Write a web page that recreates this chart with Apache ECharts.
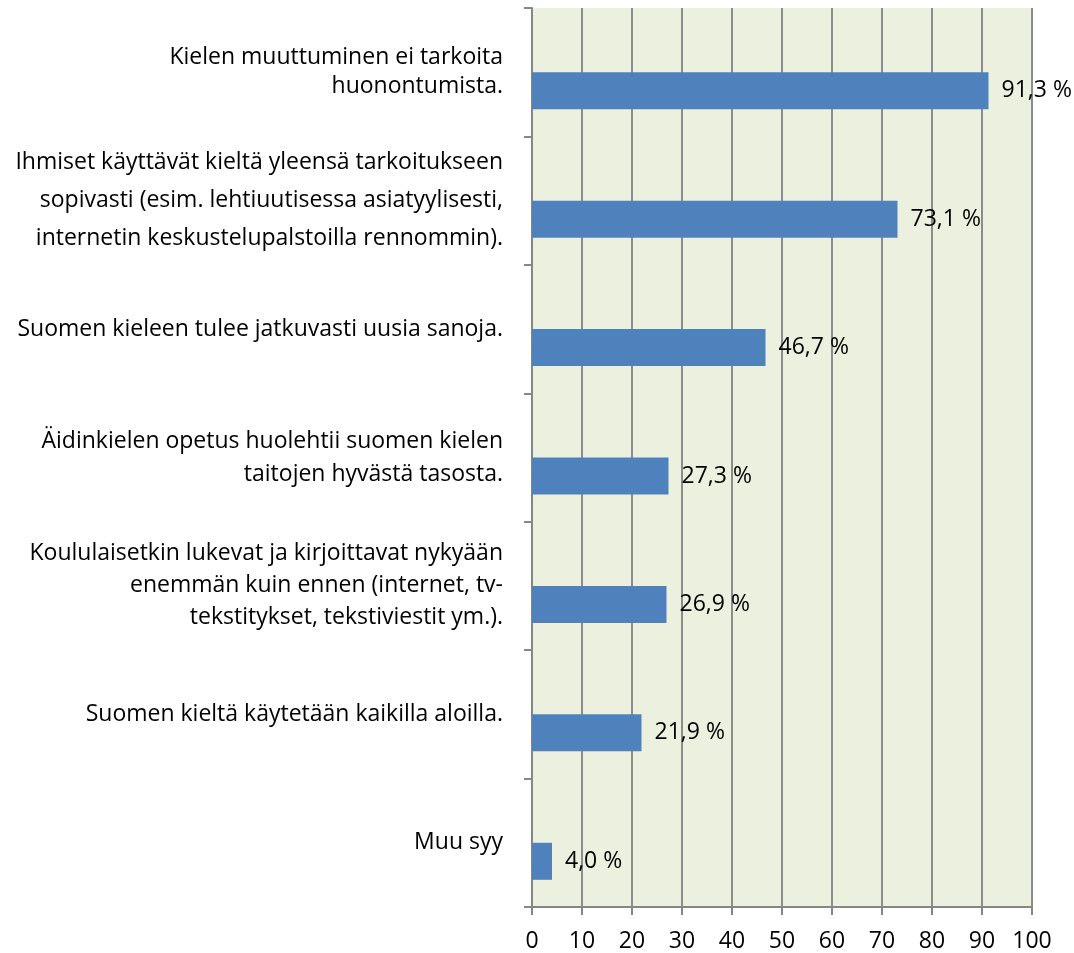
<!DOCTYPE html>
<html>
<head>
<meta charset="utf-8">
<script src="https://cdn.jsdelivr.net/npm/echarts@6/dist/echarts.min.js"></script>
<style>
  html, body { margin: 0; padding: 0; background: #fff; }
  #chart { width: 1074px; height: 953px; }
</style>
</head>
<body>
<div id="chart"></div>
<script>
// kategoriat ylhäältä alas
var categories = [
  'Kielen muuttuminen ei tarkoita\nhuonontumista.',
  'Ihmiset käyttävät kieltä yleensä tarkoitukseen\nsopivasti (esim. lehtiuutisessa asiatyylisesti,\ninternetin keskustelupalstoilla rennommin).',
  'Suomen kieleen tulee jatkuvasti uusia sanoja.',
  'Äidinkielen opetus huolehtii suomen kielen\ntaitojen hyvästä tasosta.',
  'Koululaisetkin lukevat ja kirjoittavat nykyään\nenemmän kuin ennen (internet, tv-\ntekstitykset, tekstiviestit ym.).',
  'Suomen kieltä käytetään kaikilla aloilla.',
  'Muu syy'
];
var values = [91.3, 73.1, 46.7, 27.3, 26.9, 21.9, 4.0];
var xTicks = [0, 10, 20, 30, 40, 50, 60, 70, 80, 90, 100];

// rivivälit kuten Excelissä
var lineHeights = [29, 38, 32, 33, 32, 32, 32];

var font = 'Open Sans';
var chart = echarts.init(document.getElementById('chart'));
chart.setOption({
  animation: false,
  grid: { left: 532, right: 42, top: 8, bottom: 44, backgroundColor: '#EBF1DE', show: true, borderWidth: 0 },
  xAxis: {
    type: 'value',
    min: xTicks[0],
    max: xTicks[xTicks.length - 1],
    interval: 10,
    axisLine: { show: true, lineStyle: { color: '#868686', width: 2 } },
    axisTick: { show: true, length: 8, lineStyle: { color: '#868686', width: 2 } },
    splitLine: { show: true, lineStyle: { color: '#8c8c8c', width: 2 } },
    axisLabel: { color: '#000', fontFamily: font, fontSize: 23, margin: 23 }
  },
  yAxis: {
    type: 'category',
    inverse: true,
    data: categories.map(function (c, i) {
      return { value: c, textStyle: { lineHeight: lineHeights[i] } };
    }),
    axisLine: { show: true, lineStyle: { color: '#868686', width: 2 } },
    axisTick: { show: true, length: 8, alignWithLabel: false, lineStyle: { color: '#868686', width: 2 } },
    axisLabel: { color: '#000', fontFamily: font, fontSize: 23, lineHeight: 32, margin: 29, align: 'right' }
  },
  series: [
    // tyhjä sarja (Excelin ryhmittely), siirtää palkit kaistan alapuolelle
    { type: 'bar', data: [], barWidth: 37, barGap: '0%' },
    {
      type: 'bar',
      data: values,
      barWidth: 37,
      barGap: '0%',
      itemStyle: { color: '#4F81BD' },
      label: {
        show: true,
        position: 'right',
        distance: 13,
        color: '#000',
        fontFamily: font,
        fontSize: 23,
        formatter: function (p) { return p.value.toFixed(1).replace('.', ',') + ' %'; }
      }
    }
  ]
});
</script>
</body>
</html>
